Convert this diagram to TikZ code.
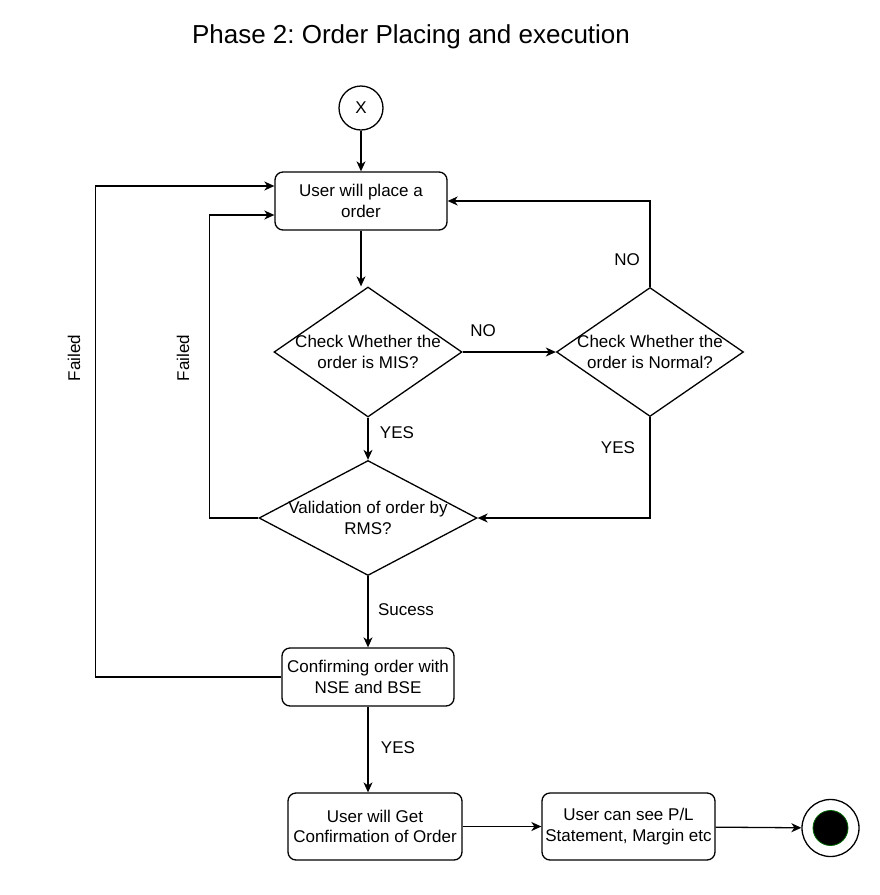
\documentclass[tikz,border=0pt]{standalone}
\usepackage{fontspec}
\setmainfont{Liberation Sans}
\frenchspacing
\usetikzlibrary{arrows.meta,shapes.geometric}

\begin{document}
\begin{tikzpicture}[
 x=1pt,y=-1pt,
 line width=1.3pt,
 font=\fontsize{17}{20.5}\selectfont,
 box/.style={draw,rounded corners=8pt,align=center,minimum width=172pt,minimum height=58pt,inner sep=0pt},
 decision/.style={draw,diamond,align=center,inner sep=-8pt},
 arrow/.style={-{Stealth[length=10pt,width=9pt,inset=3pt]}},
 lbl/.style={inner sep=0pt}]
\useasboundingbox (0,0) rectangle (879,895);
\node[lbl,font=\fontsize{26}{30}\selectfont] (title) at (411,37) {Phase 2: Order Placing and execution};
\node[draw,circle,minimum size=44pt,inner sep=0pt] (start) at (361,108) {X};
\node[box] (place) at (361,201) {User will place a\\order};
\node[decision,aspect=1.45,minimum width=188pt,minimum height=130pt] (mis) at (368,352) {Check Whether the\\order is MIS?};
\node[decision,aspect=1.45,minimum width=187pt,minimum height=129pt] (normal) at (650,352) {Check Whether the\\order is Normal?};
\node[decision,aspect=1.9,minimum width=218pt,minimum height=115pt] (rms) at (368,518) {Validation of order by\\RMS?};
\node[box] (confirm) at (368,677) {Confirming order with\\NSE and BSE};
\node[box,minimum width=174pt,minimum height=67pt] (getconf) at (375,826.5) {User will Get\\Confirmation of Order};
\node[box,minimum width=173pt,minimum height=67pt] (seepl) at (628.5,826.5) {User can see P/L\\Statement, Margin etc};
\node[draw,circle,minimum size=57pt,inner sep=0pt] (stop) at (830.5,828) {};
\node[circle,fill=black,draw=green!40!black,line width=0.8pt,minimum size=35pt,inner sep=0pt] (stopdot) at (stop.center) {};
% connectors
\draw[arrow] (start)--(place);
\draw[arrow] (place.south)--(place.south |- mis.north);
\draw[arrow] (mis)--(normal);
\draw[arrow] (normal.north) |- (place.east);
\draw[arrow] (mis)--(rms);
\draw[arrow] (normal.south) |- (rms.east);
\draw[arrow] (rms.west) -- ++(-49,0) |- ([yshift=-14pt]place.west);
\draw[arrow] (rms)--(confirm);
\draw[arrow] (confirm.west) -- ++(-186,0) |- ([yshift=15pt]place.west);
\draw[arrow] (confirm.south)--(confirm.south |- getconf.north);
\draw[arrow] (getconf)--(seepl);
\draw[arrow] (seepl)--(stop);
% labels
\node[lbl] (nomis) at (483,331) {NO};
\node[lbl] (nonormal) at (627,260) {NO};
\node[lbl] (yesmis) at (397,433) {YES};
\node[lbl] (yesnormal) at (618,448) {YES};
\node[lbl] (success) at (406,610) {Sucess};
\node[lbl] (yesconfirm) at (398,748) {YES};
\node[lbl,rotate=90] (failedout) at (74,358) {Failed};
\node[lbl,rotate=90] (failedin) at (183,358) {Failed};
\end{tikzpicture}
\end{document}
